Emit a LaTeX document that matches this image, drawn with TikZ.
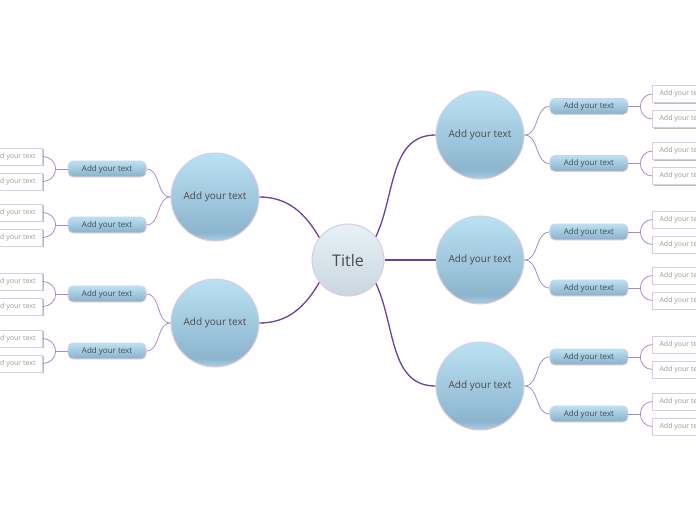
\documentclass[tikz,border=0pt]{standalone}
\usepackage{fontspec}
\setmainfont{Open Sans}
\usetikzlibrary{positioning,shadows}
\definecolor{linkdark}{HTML}{6F3F9F}
\definecolor{linklight}{HTML}{A98BC9}
\definecolor{rim}{HTML}{DCCBE8}
\definecolor{bluetop}{HTML}{BBE1F3}
\definecolor{bluebot}{HTML}{8CB5CE}
\definecolor{bluerim}{HTML}{A9D1E6}
\definecolor{titletop}{HTML}{E6F1F7}
\definecolor{titlebot}{HTML}{CAD7DE}
\definecolor{ink}{HTML}{4A4A4A}
\definecolor{leafink}{HTML}{9A9A9A}
\definecolor{shade}{HTML}{BDBDBD}
\pgfdeclareverticalshading{topicshade}{100bp}{color(0bp)=(bluerim); color(25bp)=(bluerim); color(30bp)=(bluebot); color(75bp)=(bluetop); color(100bp)=(bluetop)}
\pgfdeclareverticalshading{titleshade}{100bp}{color(0bp)=(titlebot); color(25bp)=(titlebot); color(75bp)=(titletop); color(100bp)=(titletop)}
\tikzset{
  titlenode/.style={circle, draw=rim, line width=1pt, minimum size=72pt, inner sep=0pt, shading=titleshade, text=ink, font=\fontsize{16}{18}\selectfont},
  topic/.style={circle, draw=rim, line width=1pt, minimum size=88pt, inner sep=0pt, shading=topicshade, text=ink, font=\fontsize{10}{12}\selectfont},
  subtopic/.style={draw=rim, line width=0.8pt, rounded corners=5pt, minimum width=78pt, minimum height=16pt, inner sep=0pt, shading=topicshade, text=ink, font=\fontsize{8}{10}\selectfont},
  leaf/.style={draw=rim, fill=white, minimum width=58pt, minimum height=17pt, inner sep=0pt, text=leafink, font=\fontsize{7}{9}\selectfont, drop shadow={shadow xshift=1pt, shadow yshift=-1.2pt, fill=shade, opacity=1}},
  mainlink/.style={draw=linkdark, line width=1.3pt},
  sublink/.style={draw=linklight, line width=0.8pt}
}
\begin{document}
\begin{tikzpicture}[x=1pt, y=1pt]
  \useasboundingbox[fill=white] (0,0) rectangle (696,-520);
  \clip (0,0) rectangle (696,-520);
  % centre and main topics
  \node[titlenode] (title) at (348,-260) {Title};
  \node[topic] (t1) at (480,-135) {Add your text};
  \node[topic] (t2) at (480,-260) {Add your text};
  \node[topic] (t3) at (480,-386) {Add your text};
  \node[topic] (t4) at (215,-197) {Add your text};
  \node[topic] (t5) at (215,-323) {Add your text};
  \draw[mainlink] (title.40) to[out=65, in=180] (t1.west);
  \draw[mainlink] (title) -- (t2);
  \draw[mainlink] (title.-40) to[out=-65, in=180] (t3.west);
  \draw[mainlink] (title.142) to[out=120, in=0] (t4.east);
  \draw[mainlink] (title.218) to[out=240, in=0] (t5.east);
  % subtopics, right side
  \node[subtopic, right=25pt of t1, yshift=28.5pt] (s1) {Add your text};
  \node[subtopic, right=25pt of t1, yshift=-28.5pt] (s2) {Add your text};
  \node[subtopic, right=25pt of t2, yshift=28pt] (s3) {Add your text};
  \node[subtopic, right=25pt of t2, yshift=-28pt] (s4) {Add your text};
  \node[subtopic, right=25pt of t3, yshift=29pt] (s5) {Add your text};
  \node[subtopic, right=25pt of t3, yshift=-28pt] (s6) {Add your text};
  % subtopics, left side
  \node[subtopic, left=24pt of t4, yshift=28pt] (s7) {Add your text};
  \node[subtopic, left=24pt of t4, yshift=-28pt] (s8) {Add your text};
  \node[subtopic, left=24pt of t5, yshift=29pt] (s9) {Add your text};
  \node[subtopic, left=24pt of t5, yshift=-28pt] (s10) {Add your text};
  \draw[sublink] (t1.east) to[out=0, in=180] (s1.west);
  \draw[sublink] (t1.east) to[out=0, in=180] (s2.west);
  \draw[sublink] (t2.east) to[out=0, in=180] (s3.west);
  \draw[sublink] (t2.east) to[out=0, in=180] (s4.west);
  \draw[sublink] (t3.east) to[out=0, in=180] (s5.west);
  \draw[sublink] (t3.east) to[out=0, in=180] (s6.west);
  \draw[sublink] (t4.west) to[out=180, in=0] (s7.east);
  \draw[sublink] (t4.west) to[out=180, in=0] (s8.east);
  \draw[sublink] (t5.west) to[out=180, in=0] (s9.east);
  \draw[sublink] (t5.west) to[out=180, in=0] (s10.east);
  % leaves
  \foreach \s in {s1,s2,s3,s4,s5,s6} {
    \node[leaf, right=24pt of \s, yshift=12.5pt] (\s a) {Add your text};
    \node[leaf, right=24pt of \s, yshift=-12.5pt] (\s b) {Add your text};
    \draw[sublink] (\s.east) -- ++(12pt,0) coordinate (\s j);
    \draw[sublink] (\s j) to[out=90, in=180] (\s a.west);
    \draw[sublink] (\s j) to[out=-90, in=180] (\s b.west);
  }
  \foreach \s in {s7,s8,s9,s10} {
    \node[leaf, left=25pt of \s, yshift=12.5pt] (\s a) {Add your text};
    \node[leaf, left=25pt of \s, yshift=-12.5pt] (\s b) {Add your text};
    \draw[sublink] (\s.west) -- ++(-12pt,0) coordinate (\s j);
    \draw[sublink] (\s j) to[out=90, in=0] (\s a.east);
    \draw[sublink] (\s j) to[out=-90, in=0] (\s b.east);
  }
\end{tikzpicture}
\end{document}
